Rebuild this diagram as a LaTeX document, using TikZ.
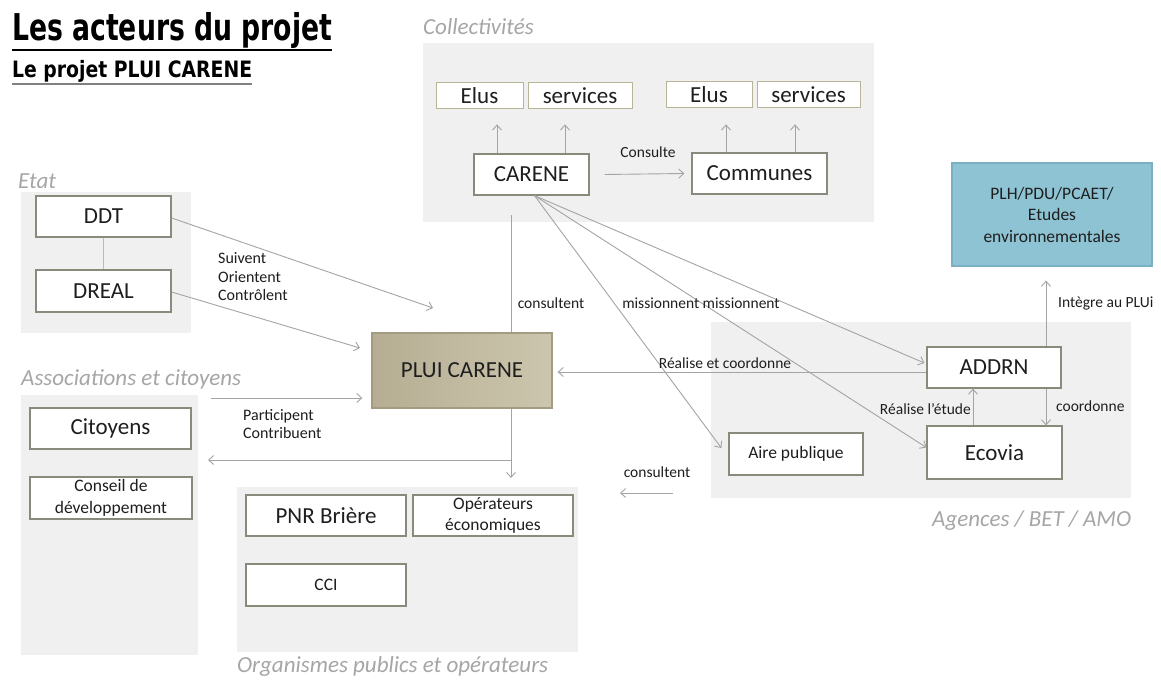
\documentclass[tikz,border=0pt]{standalone}
\usepackage{fontspec}
\setmainfont{Carlito}
\newfontfamily\titlefont{DejaVu Sans}
\usepackage{graphicx}
\usetikzlibrary{arrows.meta}
\definecolor{bggray}{HTML}{F0F0F0}
\definecolor{boxdraw}{HTML}{8A8A7C}
\definecolor{sbdraw}{HTML}{B8B496}
\definecolor{arrgray}{HTML}{A4A4A4}
\definecolor{lgray}{HTML}{A6A6A6}
\definecolor{tealc}{HTML}{9EC6C6}
\definecolor{pluiL}{HTML}{B6AE93}
\definecolor{pluiR}{HTML}{CCC6AE}
\definecolor{pluidraw}{HTML}{A39C82}
\definecolor{plhfill}{HTML}{8EC3D3}
\definecolor{plhdraw}{HTML}{7AB1C2}
\definecolor{txt}{HTML}{1E1E1E}
\begin{document}
\begin{tikzpicture}[x=1pt,y=-1pt,
  bgbox/.style={fill=bggray, draw=none, inner sep=0pt, anchor=north west},
  box/.style={draw=boxdraw, fill=white, line width=1.2pt, inner sep=1pt, text=txt, align=center,
    font=\fontsize{23}{26}\selectfont},
  sbox/.style={box, draw=sbdraw, line width=1pt},
  midbox/.style={box, font=\fontsize{17.5}{21.5}\selectfont},
  grouplab/.style={anchor=base west, inner sep=0pt, text=lgray, font=\fontsize{23}{26}\selectfont\itshape},
  lab/.style={inner sep=0pt, text=txt, font=\fontsize{15.5}{18.5}\selectfont},
  arr/.style={draw=arrgray, line width=0.9pt, -{Straight Barb[length=5pt,width=9pt]}},
  plainline/.style={draw=arrgray, line width=0.9pt}
]
\useasboundingbox (0,0) rectangle (1161,682);
\fill[white] (0,0) rectangle (1161,682);

% Title
\node[anchor=north west, inner sep=0pt] (t1) at (12,12)
  {\resizebox*{320pt}{36pt}{\titlefont\bfseries Les acteurs du projet}};
\draw[black, line width=2.5pt] (12,50) -- (332,50);
\node[anchor=north west, inner sep=0pt] (t2) at (12,60)
  {\resizebox*{240pt}{22pt}{\titlefont\bfseries Le projet PLUI CARENE}};
\draw[gray, line width=2.5pt] (12,84) -- (252,84);

% Group backgrounds
\node[bgbox, minimum width=451pt, minimum height=179pt] (gColl) at (423,43) {};
\node[bgbox, minimum width=170pt, minimum height=141pt] (gEtat) at (21,192) {};
\node[bgbox, minimum width=177pt, minimum height=260pt] (gAssoc) at (21,395) {};
\node[bgbox, minimum width=341pt, minimum height=165pt] (gOrg) at (237,487) {};
\node[bgbox, minimum width=420pt, minimum height=176pt] (gAg) at (711,322) {};

% Group labels
\node[grouplab] (lColl) at (423,35) {Collectivités};
\node[grouplab] (lEtat) at (18,188) {Etat};
\node[grouplab] (lAssoc) at (21,385) {Associations et citoyens};
\node[grouplab] (lOrg) at (237,672) {Organismes publics et opérateurs};
\node[grouplab] (lAg) at (932,526) {Agences / BET / AMO};

% Vertical line (behind PLUI box)
\coordinate (vtop) at (511,215);
\coordinate (vbr) at (511,460);
\coordinate (vtip) at (511,478);
\draw[arr] (vtop) -- (vtip);
\coordinate (citTip) at (208,460);
\draw[arr] (vbr) -- (citTip);

% Boxes
\node[sbox, minimum width=87pt, minimum height=26pt] (ElusL) at (479.5,96) {Elus};
\node[sbox, minimum width=104pt, minimum height=26pt] (servL) at (580,96) {services};
\node[sbox, minimum width=86pt, minimum height=26pt] (ElusR) at (709,95) {Elus};
\node[sbox, minimum width=103pt, minimum height=26pt] (servR) at (808.5,95) {services};
\node[box, minimum width=115pt, minimum height=41pt] (CARENE) at (531.5,174.5) {CARENE};
\node[box, minimum width=135pt, minimum height=41pt] (Communes) at (759.5,173.5) {Communes};
\node[box, minimum width=135pt, minimum height=41pt] (DDT) at (103.5,216.5) {DDT};
\node[box, minimum width=135pt, minimum height=42pt] (DREAL) at (103.5,291) {DREAL};
\node[box, draw=pluidraw, left color=pluiL, right color=pluiR, minimum width=180pt, minimum height=75pt] (PLUI) at (462,370.5) {PLUI CARENE};
\node[midbox, minimum width=134pt, minimum height=42pt] (Aire) at (796,454) {Aire publique};
\node[box, minimum width=134pt, minimum height=41pt] (ADDRN) at (994,367.5) {ADDRN};
\node[box, minimum width=135pt, minimum height=53pt] (Ecovia) at (994.5,452.5) {Ecovia};
\node[midbox, draw=plhdraw, fill=plhfill, minimum width=200pt, minimum height=103pt] (PLH) at (1052,214.5)
  {PLH/PDU/PCAET/\\Etudes\\environnementales};
\node[box, minimum width=161pt, minimum height=41pt] (Citoyens) at (110.5,428.5) {Citoyens};
\node[midbox, minimum width=162pt, minimum height=42pt, inner sep=0pt] (Conseil) at (111,498) {Conseil de\\développement};
\node[box, minimum width=160pt, minimum height=41pt] (PNR) at (326,515.5) {PNR Brière};
\node[midbox, minimum width=160pt, minimum height=41pt, inner sep=0pt] (Oper) at (493,515.5) {Opérateurs\\économiques};
\node[midbox, minimum width=160pt, minimum height=42pt] (CCI) at (326,585) {CCI};

% Etat connector
\draw[draw=tealc, line width=1pt] (DDT.south) -- (DREAL.north);

% Collectivités arrows
\draw[arr] ([xshift=-34.5pt]CARENE.north) -- ([xshift=-34.5pt,yshift=29pt]CARENE.north);
\draw[arr] ([xshift=33.5pt]CARENE.north) -- ([xshift=33.5pt,yshift=29pt]CARENE.north);
\draw[arr] ([xshift=-33.5pt]Communes.north) -- ([xshift=-33.5pt,yshift=28pt]Communes.north);
\draw[arr] ([xshift=35.5pt]Communes.north) -- ([xshift=35.5pt,yshift=28pt]Communes.north);
\draw[arr] ([xshift=15pt]CARENE.east) -- ([xshift=-7pt]Communes.west);
\node[lab] (lConsulte) at (648,152) {Consulte};

% Etat arrows
\coordinate (ddtTip) at (433,308);
\coordinate (drealTip) at (360,348);
\draw[arr] ([yshift=-1.5pt]DDT.east) -- (ddtTip);
\draw[arr] ([yshift=-1pt]DREAL.east) -- (drealTip);
\node[lab, anchor=west, align=left, font=\fontsize{16}{18.5}\selectfont] (lSuivent) at (218,277) {Suivent\\Orientent\\Contrôlent};

% Associations arrows
\coordinate (partStart) at (211,398);
\draw[arr] (partStart) -- ([xshift=-9pt]PLUI.west |- partStart);
\node[lab, anchor=west, align=left, font=\fontsize{16}{18.5}\selectfont] (lPart) at (243,424) {Participent\\Contribuent};

% CARENE diagonals
\draw[arr] ([xshift=3pt]CARENE.south) -- ([xshift=-7pt,yshift=6pt]Aire.west);
\draw[arr] ([xshift=3pt]CARENE.south) -- ([yshift=5pt]Ecovia.west);
\draw[arr] ([xshift=3pt]CARENE.south) -- ([xshift=-2pt,yshift=4.5pt]ADDRN.west);
\node[lab] (lConsultent) at (551,303) {consultent};
\node[lab] (lMission) at (701,303) {missionnent missionnent};

% Réalise et coordonne
\draw[arr] ([yshift=-4.5pt]ADDRN.west) -- ([xshift=5pt,yshift=-1.5pt]PLUI.east);
\node[lab] (lRealise) at (725,363) {Réalise et coordonne};

% Agences arrows
\draw[arr] ([xshift=52pt]ADDRN.north) -- ([xshift=-6pt,yshift=-14pt]PLH.south);
\node[lab, anchor=west] (lIntegre) at (1058,303) {Intègre au PLUi};
\draw[arr] ([xshift=52pt]ADDRN.south) -- ([xshift=51.5pt]Ecovia.north);
\node[lab, anchor=west] (lCoord) at (1056,406) {coordonne};
\draw[arr] ([xshift=-21.5pt]Ecovia.north) -- ([xshift=-21pt]ADDRN.south);
\node[lab, anchor=east] (lEtude) at (971,409) {Réalise l’étude};

% consultent (bottom)
\coordinate (csA) at (673,493);
\coordinate (csB) at (620,493);
\draw[arr] (csA) -- (csB);
\node[lab] (lConsultent2) at (657,472) {consultent};
\end{tikzpicture}
\end{document}
